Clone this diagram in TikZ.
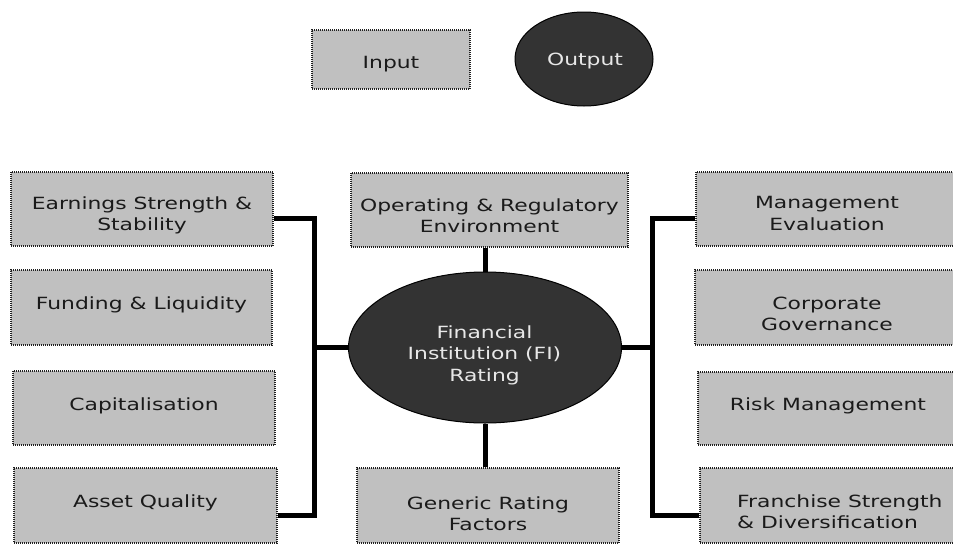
\documentclass[tikz,border=0pt]{standalone}
\usepackage{fontspec}
\setmainfont{DejaVu Sans}[FakeStretch=1.3]
\usetikzlibrary{shapes.geometric}
\definecolor{boxfill}{HTML}{C0C0C0}
\definecolor{ovalfill}{HTML}{333333}
\definecolor{dotline}{HTML}{202020}
\definecolor{inktext}{HTML}{1A1A1A}
\definecolor{ovalink}{HTML}{E8E8E8}
\tikzset{
  factor/.style={rectangle, draw=dotline, line width=1.1pt, dash pattern=on 1pt off 1pt,
    fill=boxfill, inner sep=0pt},
  oval/.style={ellipse, draw=black, line width=1pt, fill=ovalfill, inner sep=0pt},
  boxtext/.style={anchor=north, inner sep=0pt, align=center, text=inktext,
    font=\fontsize{16.8}{21.5}\selectfont},
  ovaltext/.style={anchor=north, inner sep=0pt, align=center, text=ovalink,
    font=\fontsize{16.8}{21.5}\selectfont},
  link/.style={draw=black, line width=5pt},
}
\begin{document}
\begin{tikzpicture}[x=1pt, y=-1pt]
\useasboundingbox (0,0) rectangle (953,544);
\clip (0,0) rectangle (953,544);
\fill[white] (0,0) rectangle (953,544);

% legend
\node[factor, minimum width=158, minimum height=59] (input) at (391,59.5) {};
\node[boxtext] (inputt) at (391,56.5) {Input};
\node[oval, minimum width=138, minimum height=94] (output) at (584,59) {};
\node[ovaltext] (outputt) at (585,52.5) {Output};

% left column
\node[factor, minimum width=262, minimum height=74] (earn) at (142,209) {};
\node[factor, minimum width=261, minimum height=75] (fund) at (141.5,307.5) {};
\node[factor, minimum width=262, minimum height=74] (capi) at (144,408) {};
\node[factor, minimum width=263, minimum height=75] (asset) at (145.5,505.5) {};
\node[boxtext] (earnt) at (142,196.5) {Earnings Strength \&\\Stability};
\node[boxtext] (fundt) at (141.5,296.5) {Funding \& Liquidity};
\node[boxtext] (capit) at (144,397.5) {Capitalisation};
\node[boxtext] (assett) at (145.5,494.5) {Asset Quality};

% centre column
\node[factor, minimum width=277, minimum height=74] (oper) at (489.5,210) {};
\node[boxtext] (opert) at (489.5,198.5) {Operating \& Regulatory\\Environment};
\node[oval, minimum width=273, minimum height=151] (fi) at (485,347.5) {};
\node[ovaltext] (fit) at (484.5,325.5) {Financial\\Institution (FI)\\Rating};
\node[factor, minimum width=262, minimum height=75] (gen) at (488,505.5) {};
\node[boxtext] (gent) at (488,496.5) {Generic Rating\\Factors};

% right column
\node[factor, minimum width=262, minimum height=74] (mgmt) at (827,209) {};
\node[factor, minimum width=263, minimum height=75] (corp) at (826.5,307.5) {};
\node[factor, minimum width=260, minimum height=73] (risk) at (828,408.5) {};
\node[factor, minimum width=258, minimum height=75] (fran) at (829,505.5) {};
\node[boxtext] (mgmtt) at (827,196.5) {Management\\Evaluation};
\node[boxtext] (corpt) at (827,296.5) {Corporate\\Governance};
\node[boxtext] (riskt) at (828,397.5) {Risk Management};
\node[boxtext, anchor=north west, align=left] (frant) at (737,494.5) {Franchise Strength\\\& Diversification};

% connectors
\coordinate (ltop) at (314,218);
\coordinate (lbot) at (314,515);
\coordinate (rtop) at (652,218);
\coordinate (rbot) at (652,515);
\draw[link] (earn.east |- ltop) -- (ltop) -- (lbot) -- (asset.east |- lbot);
\draw[link] (fi.west) -- (fi.west -| ltop);
\draw[link] (mgmt.west |- rtop) -- (rtop) -- (rbot) -- (fran.west |- rbot);
\draw[link] (fi.east) -- (fi.east -| rtop);
\draw[link] (oper.south -| fi.north) -- (fi.north);
\draw[link] (fi.south) -- (gen.north -| fi.south);
\end{tikzpicture}
\end{document}
